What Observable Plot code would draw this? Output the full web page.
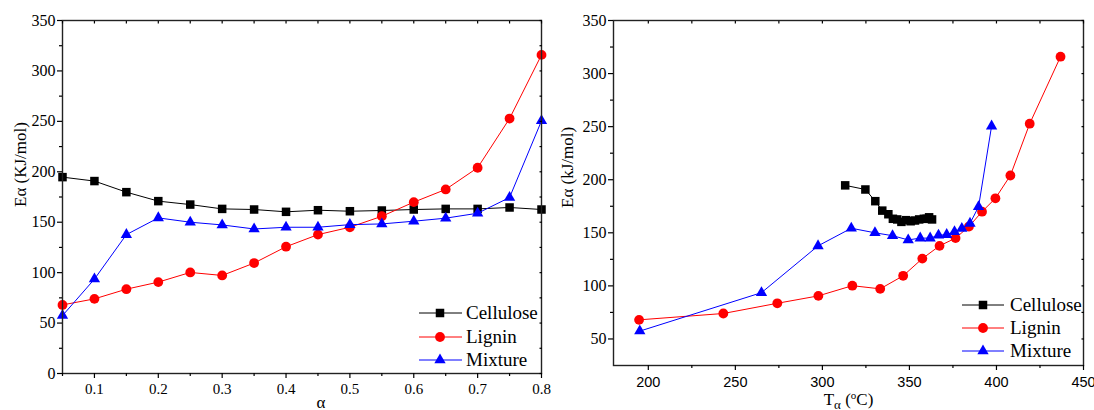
<!DOCTYPE html>
<html>
<head>
<meta charset="utf-8">
<script src="https://cdn.jsdelivr.net/npm/d3@7"></script>
<script src="https://cdn.jsdelivr.net/npm/@observablehq/plot@0.6"></script>
<style>
  html, body { margin: 0; padding: 0; background: #fff; }
  #wrap { position: relative; width: 1094px; height: 410px; overflow: hidden; background: #fff; }
  #left { position: absolute; left: 0; top: 0; }
  #right { position: absolute; left: 560px; top: 0; }
  #wrap svg, #wrap svg text, #wrap svg tspan { font-family: "Liberation Serif", "Times New Roman", serif !important; }
  #wrap svg text.sans { font-family: "Liberation Sans", Arial, sans-serif !important; }
</style>
</head>
<body>
<div id="wrap"><div id="left"></div><div id="right"></div></div>
<script>
// ---- data ----
const alpha = [0.05, 0.1, 0.15, 0.2, 0.25, 0.3, 0.35, 0.4, 0.45, 0.5, 0.55, 0.6, 0.65, 0.7, 0.75, 0.8];
const celluloseE = [194.7, 190.8, 179.8, 170.9, 167.5, 163.2, 162.6, 160.3, 161.9, 160.9, 161.6, 162.6, 163.2, 163.2, 164.6, 162.6];
const ligninE    = [68.0, 74.0, 83.6, 90.6, 100.2, 97.2, 109.5, 125.7, 137.7, 145.0, 155.9, 169.9, 182.5, 204.0, 252.8, 315.9];
const mixtureE   = [57.4, 93.6, 137.7, 154.3, 150.0, 147.3, 143.3, 145.0, 145.0, 147.6, 148.3, 151.0, 154.0, 158.9, 174.5, 250.5];
const celluloseT = [313.1, 324.7, 330.4, 334.4, 337.9, 340.5, 343.0, 345.4, 348.1, 350.7, 353.2, 355.6, 358.3, 359.9, 361.3, 363.0];
const ligninT    = [194.7, 243.1, 274.1, 297.7, 317.2, 333.2, 346.4, 357.4, 367.3, 376.5, 384.2, 391.7, 399.4, 408.0, 419.1, 436.8];
const mixtureT   = [195.1, 265.0, 297.5, 316.6, 330.2, 340.3, 349.3, 356.2, 361.9, 366.7, 371.4, 375.9, 380.1, 384.8, 389.7, 397.2];

const seriesNames = ["Cellulose", "Lignin", "Mixture"];
const seriesColors = ["#000000", "#ff0000", "#0000ff"];
const seriesSymbols = ["square", "circle", "triangle"];
const seriesR = [4.8, 4.9, 4.2];

const leftYMajor = [0, 50, 100, 150, 200, 250, 300, 350];
const leftYMinor = [25, 75, 125, 175, 225, 275, 325];
const leftXMajor = [0.1, 0.2, 0.3, 0.4, 0.5, 0.6, 0.7, 0.8];
const leftXMinor = [0.05, 0.15, 0.25, 0.35, 0.45, 0.55, 0.65, 0.75];
const rightYMajor = [50, 100, 150, 200, 250, 300, 350];
const rightYMinor = [75, 125, 175, 225, 275, 325];
const rightXMajor = [200, 250, 300, 350, 400, 450];
const rightXMinor = [225, 275, 325, 375, 425];

const Es = [celluloseE, ligninE, mixtureE];
const Ts = [celluloseT, ligninT, mixtureT];
const leftRows = [], rightRows = [];
seriesNames.forEach((s, i) => {
  alpha.forEach((a, j) => {
    leftRows.push({series: s, x: a, E: Es[i][j]});
    rightRows.push({series: s, x: Ts[i][j], E: Es[i][j]});
  });
});

const serif = "Liberation Serif, Times New Roman, serif";
const sans = "Liberation Sans, Arial, sans-serif";

function seriesMarks(rows) {
  const marks = [];
  seriesNames.forEach((s, i) => {
    const d = rows.filter(r => r.series === s);
    marks.push(Plot.line(d, {x: "x", y: "E", stroke: seriesColors[i], strokeWidth: 1}));
    marks.push(Plot.dot(d, {x: "x", y: "E", symbol: () => seriesSymbols[i], r: seriesR[i], fill: seriesColors[i], stroke: "none"}));
  });
  return marks;
}

function frameTicks(xMajor, xMinor, yMajor, yMinor, xFont, xFontSize, xPad) {
  const none = () => "";
  return [
    Plot.axisY(yMajor, {anchor: "left", tickSize: 5, tickPadding: 2, fontFamily: serif, fontSize: 16, label: null, strokeWidth: 1.2}),
    Plot.axisY(yMinor, {anchor: "left", tickSize: 3, tickFormat: none, label: null, strokeWidth: 1.2}),
    Plot.axisY(yMajor.concat(yMinor), {anchor: "right", tickSize: -2.5, tickFormat: none, label: null, strokeWidth: 1.2}),
    Plot.axisX(xMajor, {anchor: "bottom", tickSize: 5, tickPadding: xPad, fontFamily: xFont, fontSize: xFontSize, label: null, strokeWidth: 1.2}),
    Plot.axisX(xMinor, {anchor: "bottom", tickSize: 3, tickFormat: none, label: null, strokeWidth: 1.2}),
    Plot.axisX(xMajor.concat(xMinor), {anchor: "top", tickSize: -2.5, tickFormat: none, label: null, strokeWidth: 1.2})
  ];
}

const left = Plot.plot({
  width: 560, height: 410,
  marginLeft: 62, marginRight: 19, marginTop: 20, marginBottom: 37,
  style: {background: "#fff", color: "#000", overflow: "visible", fontFamily: serif},
  x: {domain: [0.05, 0.8], label: null},
  y: {domain: [0, 350], label: null},
  marks: [
    ...seriesMarks(leftRows),
    Plot.frame({stroke: "#222", strokeWidth: 1.4}),
    ...frameTicks(leftXMajor, leftXMinor, leftYMajor, leftYMinor, serif, 15, 5),
    Plot.text(["Eα (KJ/mol)"], {frameAnchor: "left", rotate: -90, dx: -42, dy: 10, fontSize: 17, fontFamily: serif, fill: "#000"}),
    Plot.text(["α"], {frameAnchor: "bottom", dx: 19, dy: 34, lineAnchor: "bottom", fontSize: 17, fontFamily: serif, fill: "#000"})
  ]
});

const right = Plot.plot({
  width: 534, height: 410,
  marginLeft: 53, marginRight: 11, marginTop: 20, marginBottom: 45,
  style: {background: "#fff", color: "#000", overflow: "visible", fontFamily: serif},
  x: {domain: [180, 450], label: null},
  y: {domain: [25, 350], label: null},
  marks: [
    ...seriesMarks(rightRows),
    Plot.frame({stroke: "#222", strokeWidth: 1.4}),
    ...frameTicks(rightXMajor, rightXMinor, rightYMajor, rightYMinor, sans, 14.5, 6),
    Plot.text(["Eα (kJ/mol)"], {frameAnchor: "left", rotate: -90, dx: -46, dy: 15, fontSize: 17, fontFamily: serif, fill: "#000"}),
    Plot.text(["Tα (°C)"], {frameAnchor: "bottom", dx: 0, dy: 39, lineAnchor: "bottom", fontSize: 17, fontFamily: serif, fill: "#000"})
  ]
});

document.getElementById("left").appendChild(left);
document.getElementById("right").appendChild(right);

// subscript / superscript in the temperature label
d3.select(right).selectAll("text").filter(function() { return this.textContent === "Tα (°C)"; })
  .each(function() {
    const t = d3.select(this);
    t.text(null);
    t.append("tspan").text("T");
    t.append("tspan").attr("dy", 4).attr("font-size", 13).text("α");
    t.append("tspan").attr("dy", -4).text(" (");
    t.append("tspan").attr("dy", -6).attr("font-size", 11).text("o");
    t.append("tspan").attr("dy", 6).text("C)");
  });

// legends
function legend(svg, x0, x1, xm, xt, ys) {
  const g = d3.select(svg).append("g");
  seriesNames.forEach((s, i) => {
    const y = ys[i];
    g.append("line").attr("x1", x0).attr("x2", x1).attr("y1", y).attr("y2", y)
      .attr("stroke", seriesColors[i]).attr("stroke-width", 1);
    const sym = {square: d3.symbolSquare, circle: d3.symbolCircle, triangle: d3.symbolTriangle}[seriesSymbols[i]];
    g.append("path").attr("d", d3.symbol(sym, Math.PI * seriesR[i] * seriesR[i])())
      .attr("transform", `translate(${xm},${y})`).attr("fill", seriesColors[i]);
    g.append("text").attr("x", xt).attr("y", y).attr("dy", "0.33em")
      .attr("text-anchor", "start")
      .attr("font-family", serif).attr("font-size", 19).attr("fill", "#000").text(s);
  });
}
legend(left, 419, 462, 440, 466, [313, 337, 360]);
legend(right, 402, 444, 423, 450, [305, 328, 351]);

// copy font attributes into inline styles so no other rule overrides them
function fixFonts(svg) {
  d3.select(svg).selectAll("text, tspan").each(function() {
    let ff = null, fs = null, n = this;
    while (n && n.getAttribute && (ff === null || fs === null)) {
      if (ff === null && n.getAttribute("font-family")) ff = n.getAttribute("font-family");
      if (fs === null && n.getAttribute("font-size")) fs = n.getAttribute("font-size");
      n = n.parentNode;
    }
    if (ff) {
      this.style.setProperty("font-family", ff, "important");
      if (/Sans/.test(ff)) this.classList.add("sans");
    }
    if (fs) this.style.setProperty("font-size", /^[\d.]+$/.test(fs) ? fs + "px" : fs, "important");
  });
}
fixFonts(left);
fixFonts(right);
</script>
</body>
</html>
